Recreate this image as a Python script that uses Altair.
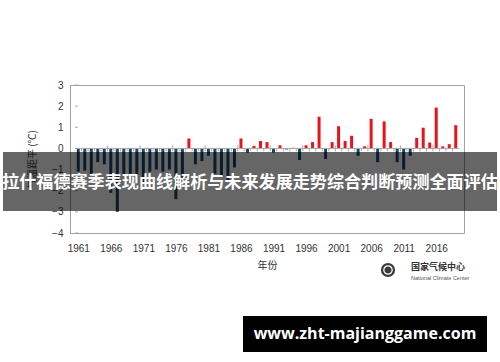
import altair as alt
import pandas as pd

years = list(range(1961, 2020))
anomaly = [
    -1.10, -1.05, -1.30, -0.65, -0.75, -2.10, -3.00, -1.30, -1.20, -1.25,
    -1.60, -1.10, -1.00, -1.10, -1.00, -2.40, -1.55, 0.47, -0.75, -0.60,
    -0.35, -1.20, -1.30, -1.55, -0.90, 0.47, -0.20, 0.12, 0.35, 0.30,
    -0.20, 0.15, -0.05, 0.03, -0.55, 0.15, 0.30, 1.50, -0.50, 0.30,
    1.05, 0.35, 0.60, -0.35, 0.10, 1.40, -0.65, 1.28, 0.30, -0.65,
    -1.00, -0.35, 0.50, 0.98, 0.28, 1.93, 0.10, 0.20, 1.10,
]
x_labels = [1961, 1966, 1971, 1976, 1981, 1986, 1991, 1996, 2001, 2006, 2011, 2016]
y_labels = [-4, -3, -2, -1, 0, 1, 2, 3]

title_text = "拉什福德赛季表现曲线解析与未来发展走势综合判断预测全面评估"
watermark = "www.zht-majianggame.com"
x_title = "年份"
y_title = "气温距平 (℃)"
logo_cn = "国家气候中心"
logo_en = "National Climate Center"

df = pd.DataFrame({"year": years, "value": anomaly})
df["sign"] = ["pos" if v >= 0 else "neg" for v in anomaly]

x0, x1 = years[0] - 0.5, years[-1] + 0.5
xscale = alt.Scale(domain=[x0, x1], nice=False, zero=False)
yscale = alt.Scale(domain=[-4, 3], nice=False)

x_axis = alt.Axis(values=x_labels, format="d", ticks=False, domain=False, grid=False,
                  labelFont="Liberation Sans", labelFontSize=10, labelColor="#333",
                  labelPadding=10, labelFlush=False, labelOverlap=False,
                  title=x_title, titleFont="Noto Sans CJK SC", titleFontSize=10,
                  titleFontWeight="normal", titleColor="#333", titlePadding=7)
y_axis = alt.Axis(values=y_labels, ticks=False, domain=False, grid=False,
                  labelFont="Liberation Sans", labelFontSize=10, labelColor="#333",
                  labelPadding=7, labelOverlap=False, labelFlush=False,
                  title=y_title, titleFont="Noto Sans CJK SC", titleFontSize=10,
                  titleFontWeight="normal", titleColor="#333", titlePadding=14)

bars = alt.Chart(df).mark_bar(size=3.0).encode(
    x=alt.X("year:Q", scale=xscale, axis=x_axis),
    y=alt.Y("value:Q", scale=yscale, axis=y_axis),
    color=alt.Color("sign:N", scale=alt.Scale(domain=["pos", "neg"], range=["#e8141c", "#17466e"]),
                    legend=None),
)

zero_df = pd.DataFrame({"x": [x0], "x2": [x1], "y": [0]})
zero_line = alt.Chart(zero_df).mark_rule(color="#a8a8a8", strokeWidth=1).encode(
    x=alt.X("x:Q", scale=xscale, axis=x_axis), x2="x2:Q",
    y=alt.Y("y:Q", scale=yscale, axis=y_axis)
)

bounds = [y + 0.5 for y in years[:-1]]
tick_df = pd.DataFrame({
    "x": bounds,
    "y": [0.14 if (b - 0.5 - 1960) % 5 == 0 else 0.0 for b in bounds],
    "y2": [-0.14] * len(bounds),
})
x_ticks = alt.Chart(tick_df).mark_rule(color="#a8a8a8", strokeWidth=1).encode(
    x=alt.X("x:Q", scale=xscale, axis=x_axis),
    y=alt.Y("y:Q", scale=yscale, axis=y_axis), y2="y2:Q"
)

ytick_df = pd.DataFrame({"y": y_labels, "x": [x0] * len(y_labels), "x2": [x0 + 0.45] * len(y_labels)})
y_ticks = alt.Chart(ytick_df).mark_rule(color="#a8a8a8", strokeWidth=1).encode(
    y=alt.Y("y:Q", scale=yscale, axis=y_axis),
    x=alt.X("x:Q", scale=xscale, axis=x_axis), x2="x2:Q"
)

one = pd.DataFrame({"a": [0]})

banner = alt.Chart(one).mark_rect(color="#000000", opacity=0.6).encode(
    x=alt.value(-67), x2=alt.value(427), y=alt.value(67), y2=alt.value(126)
)
banner_text = alt.Chart(one).mark_text(
    text=title_text, font="Noto Sans CJK SC", fontSize=17.1, fontWeight="bold",
    color="white", align="center", baseline="middle"
).encode(x=alt.value(180), y=alt.value(98))

wm_box = alt.Chart(one).mark_rect(color="#000000").encode(
    x=alt.value(173), x2=alt.value(417), y=alt.value(231), y2=alt.value(267)
)
wm_text = alt.Chart(one).mark_text(
    text=watermark, font="Open Sans", fontSize=16, fontWeight="bold",
    color="white", align="center", baseline="middle"
).encode(x=alt.value(295), y=alt.value(249))

logo_circle = alt.Chart(one).mark_point(
    shape="circle", filled=True, size=200, color="#3a3a3a", opacity=1
).encode(x=alt.value(318), y=alt.value(185))
logo_inner = alt.Chart(one).mark_point(
    shape="circle", filled=False, size=70, color="#ffffff", strokeWidth=1.2, opacity=1
).encode(x=alt.value(318), y=alt.value(185))
logo_cn_text = alt.Chart(one).mark_text(
    text=logo_cn, font="Noto Sans CJK SC", fontSize=9, fontWeight="bold",
    color="#333", align="left", baseline="middle"
).encode(x=alt.value(341), y=alt.value(182))
logo_en_text = alt.Chart(one).mark_text(
    text=logo_en, font="Liberation Sans", fontSize=5.5,
    color="#555", align="left", baseline="middle"
).encode(x=alt.value(341), y=alt.value(193))

chart = alt.layer(
    bars, zero_line, x_ticks, y_ticks,
    logo_circle, logo_inner, logo_cn_text, logo_en_text,
    banner, banner_text, wm_box, wm_text,
).properties(
    width=394, height=148,
    autosize=alt.AutoSizeParams(type="none"),
    padding={"left": 70, "top": 85, "right": 36, "bottom": 129},
    background="white",
).configure_view(stroke="#a0a0a0", strokeWidth=1
).configure_axis(labelOverlap=False)

chart.save("out.html", embed_options={"renderer": "svg", "actions": False})
